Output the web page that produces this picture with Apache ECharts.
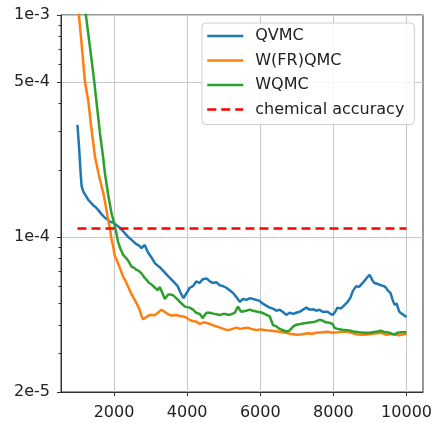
<!DOCTYPE html>
<html>
<head>
<meta charset="utf-8">
<script src="https://cdn.jsdelivr.net/npm/echarts@6/dist/echarts.min.js"></script>
<style>
html, body { margin: 0; background: #fff; }
#main { width: 436px; height: 423px; }
</style>
</head>
<body>
<div id="main"></div>
<script>
// series names as in the legend
var seriesNames = ['QVMC', 'W(FR)QMC', 'WQMC', 'chemical accuracy'];

// [iteration, error]
var qvmc = [
    [1000, 3.2e-4], [1040, 2.6e-4], [1090, 1.9e-4], [1115, 1.69e-4], [1160, 1.6e-4], [1210, 1.55e-4],
    [1295, 1.47e-4], [1360, 1.43e-4], [1430, 1.39e-4], [1500, 1.36e-4], [1570, 1.32e-4], [1650, 1.27e-4],
    [1750, 1.22e-4], [1820, 1.2e-4], [1890, 1.17e-4], [1980, 1.16e-4], [2070, 1.13e-4], [2160, 1.1e-4],
    [2250, 1.06e-4], [2360, 1.01e-4], [2480, 9.7e-5], [2600, 9.3e-5], [2700, 9.1e-5], [2750, 8.9e-5],
    [2840, 9.2e-5], [2930, 8.5e-5], [3020, 8.1e-5], [3120, 7.6e-5], [3250, 7.3e-5], [3390, 6.9e-5],
    [3500, 6.6e-5], [3620, 6.3e-5], [3740, 6.0e-5], [3820, 5.6e-5], [3900, 5.3e-5], [3990, 5.6e-5],
    [4070, 5.9e-5], [4160, 6.0e-5], [4250, 6.3e-5], [4340, 6.2e-5], [4430, 6.45e-5], [4530, 6.5e-5],
    [4620, 6.3e-5], [4700, 6.2e-5], [4800, 6.25e-5], [4890, 6.05e-5], [4980, 6.0e-5], [5070, 5.9e-5],
    [5160, 5.75e-5], [5250, 5.6e-5], [5350, 5.35e-5], [5440, 5.1e-5], [5530, 5.25e-5], [5620, 5.2e-5],
    [5720, 5.3e-5], [5800, 5.25e-5], [5890, 5.2e-5], [5980, 5.15e-5], [6070, 5.0e-5], [6160, 4.9e-5],
    [6260, 4.8e-5], [6350, 4.75e-5], [6440, 4.65e-5], [6530, 4.7e-5], [6610, 4.6e-5], [6710, 4.45e-5],
    [6800, 4.55e-5], [6900, 4.5e-5], [6980, 4.55e-5], [7080, 4.6e-5], [7170, 4.7e-5], [7260, 4.8e-5],
    [7350, 4.7e-5], [7440, 4.72e-5], [7530, 4.65e-5], [7620, 4.7e-5], [7700, 4.6e-5], [7840, 4.6e-5],
    [7920, 4.5e-5], [7980, 4.45e-5], [8050, 4.6e-5], [8110, 4.8e-5], [8200, 4.75e-5], [8260, 4.85e-5],
    [8390, 5.1e-5], [8460, 5.3e-5], [8530, 5.7e-5], [8620, 6.0e-5], [8700, 5.95e-5], [8800, 6.2e-5],
    [8900, 6.5e-5], [8990, 6.75e-5], [9060, 6.4e-5], [9120, 6.2e-5], [9200, 6.15e-5], [9300, 6.05e-5],
    [9380, 6.0e-5], [9440, 5.9e-5], [9500, 5.7e-5], [9560, 5.6e-5], [9620, 5.2e-5], [9670, 4.95e-5],
    [9730, 5.0e-5], [9800, 4.6e-5], [9850, 4.55e-5], [9920, 4.45e-5], [10000, 4.35e-5]
];

var wfrqmc = [
    [1000, 1.2e-3], [1040, 1.0e-3], [1120, 7.2e-4], [1205, 5.0e-4], [1295, 4.1e-4], [1390, 3.0e-4],
    [1480, 2.3e-4], [1570, 1.95e-4], [1660, 1.69e-4], [1705, 1.58e-4], [1750, 1.45e-4], [1800, 1.3e-4],
    [1850, 1.17e-4], [1890, 1.08e-4], [1940, 9.6e-5], [1980, 9.0e-5], [2020, 8.2e-5], [2070, 7.9e-5],
    [2110, 7.6e-5], [2180, 7.1e-5], [2250, 6.6e-5], [2300, 6.4e-5], [2400, 5.9e-5], [2480, 5.5e-5],
    [2570, 5.2e-5], [2620, 5.15e-5], [2700, 4.7e-5], [2750, 4.4e-5], [2800, 4.25e-5], [2880, 4.35e-5],
    [2980, 4.45e-5], [3030, 4.4e-5], [3120, 4.45e-5], [3200, 4.55e-5], [3300, 4.7e-5], [3350, 4.65e-5],
    [3460, 4.5e-5], [3570, 4.42e-5], [3700, 4.45e-5], [3800, 4.4e-5], [3900, 4.38e-5], [4000, 4.3e-5],
    [4100, 4.2e-5], [4250, 4.15e-5], [4350, 4.05e-5], [4440, 4.12e-5], [4530, 4.1e-5], [4620, 4.05e-5],
    [4700, 4.0e-5], [4800, 3.95e-5], [4900, 3.9e-5], [5000, 3.85e-5], [5100, 3.8e-5], [5200, 3.83e-5],
    [5350, 3.9e-5], [5450, 3.85e-5], [5550, 3.88e-5], [5650, 3.9e-5], [5750, 3.85e-5], [5890, 3.8e-5],
    [6000, 3.83e-5], [6170, 3.8e-5], [6300, 3.78e-5], [6420, 3.76e-5], [6530, 3.74e-5], [6620, 3.72e-5],
    [6710, 3.7e-5], [6850, 3.65e-5], [7000, 3.62e-5], [7150, 3.64e-5], [7300, 3.68e-5], [7420, 3.66e-5],
    [7530, 3.7e-5], [7700, 3.72e-5], [7840, 3.74e-5], [7980, 3.7e-5], [8120, 3.72e-5], [8250, 3.75e-5],
    [8390, 3.74e-5], [8500, 3.7e-5], [8620, 3.64e-5], [8760, 3.62e-5], [8900, 3.63e-5], [9050, 3.66e-5],
    [9200, 3.68e-5], [9300, 3.7e-5], [9440, 3.62e-5], [9560, 3.65e-5], [9700, 3.62e-5], [9800, 3.6e-5],
    [9900, 3.63e-5], [10000, 3.65e-5]
];

var wqmc = [
    [1000, 2.0e-3], [1120, 1.4e-3], [1230, 1.0e-3], [1350, 7.0e-4], [1460, 5.0e-4], [1540, 3.8e-4],
    [1615, 2.94e-4], [1700, 2.3e-4], [1750, 1.94e-4], [1840, 1.55e-4], [1930, 1.28e-4], [2000, 1.16e-4],
    [2060, 1.05e-4], [2110, 9.5e-5], [2180, 8.8e-5], [2250, 8.3e-5], [2340, 8.0e-5], [2410, 7.7e-5],
    [2480, 7.35e-5], [2550, 7.25e-5], [2620, 7.1e-5], [2690, 7.0e-5], [2750, 6.85e-5], [2820, 6.6e-5],
    [2890, 6.4e-5], [2960, 6.2e-5], [3030, 6.1e-5], [3120, 5.9e-5], [3200, 5.75e-5], [3250, 5.95e-5],
    [3320, 5.6e-5], [3390, 5.25e-5], [3440, 5.35e-5], [3480, 5.5e-5], [3550, 5.5e-5], [3620, 5.45e-5],
    [3700, 5.3e-5], [3750, 5.2e-5], [3850, 5.0e-5], [3940, 4.85e-5], [4070, 4.8e-5], [4160, 4.7e-5],
    [4250, 4.55e-5], [4340, 4.5e-5], [4430, 4.3e-5], [4480, 4.45e-5], [4530, 4.55e-5], [4620, 4.55e-5],
    [4750, 4.5e-5], [4890, 4.45e-5], [5000, 4.5e-5], [5160, 4.45e-5], [5300, 4.55e-5], [5390, 4.85e-5],
    [5440, 4.7e-5], [5480, 4.6e-5], [5620, 4.65e-5], [5710, 4.7e-5], [5800, 4.65e-5], [5930, 4.6e-5],
    [6060, 4.55e-5], [6170, 4.45e-5], [6260, 4.38e-5], [6350, 4.0e-5], [6440, 3.95e-5], [6530, 3.85e-5],
    [6620, 3.8e-5], [6710, 3.75e-5], [6800, 3.78e-5], [6900, 3.95e-5], [6990, 4.02e-5], [7100, 4.05e-5],
    [7200, 4.08e-5], [7300, 4.1e-5], [7400, 4.12e-5], [7500, 4.15e-5], [7620, 4.23e-5], [7700, 4.2e-5],
    [7790, 4.12e-5], [7900, 4.1e-5], [7980, 4.05e-5], [8030, 3.89e-5], [8110, 3.85e-5], [8250, 3.82e-5],
    [8390, 3.8e-5], [8550, 3.75e-5], [8700, 3.72e-5], [8850, 3.7e-5], [9000, 3.7e-5], [9080, 3.72e-5],
    [9200, 3.75e-5], [9300, 3.78e-5], [9400, 3.72e-5], [9480, 3.72e-5], [9600, 3.66e-5], [9670, 3.64e-5],
    [9760, 3.7e-5], [9850, 3.72e-5], [10000, 3.72e-5]
];

var chemAccuracy = [[1000, 1.09e-4], [10000, 1.09e-4]];

// axis ticks
var xTicks = [2000, 4000, 6000, 8000, 10000];
var yTickValues = [2e-5, 1e-4, 5e-4, 1e-3];
var yTickLabels = ['2e-5', '1e-4', '5e-4', '1e-3'];
var yMinorValues = [3e-5, 4e-5, 5e-5, 6e-5, 7e-5, 8e-5, 9e-5, 2e-4, 3e-4, 4e-4, 6e-4, 7e-4, 8e-4, 9e-4];

var colors = ['#1f77b4', '#ff7f0e', '#2ca02c', '#ff0000'];
var fontFamily = 'DejaVu Sans';

// y axis is drawn in log10 space
function toLog(arr) {
    return arr.map(function (p) { return [p[0], Math.log10(p[1])]; });
}
var yLogTicks = yTickValues.map(Math.log10);
var yLogMinor = yMinorValues.map(Math.log10);
var yMin = Math.log10(2e-5),
    yMax = Math.log10(1e-3);

var myChart = echarts.init(document.getElementById('main'));

var lineSeries = [qvmc, wfrqmc, wqmc, chemAccuracy].map(function (d, i) {
    return {
        name: seriesNames[i],
        type: 'line',
        data: toLog(d),
        symbol: 'none',
        showSymbol: false,
        clip: true,
        xAxisIndex: 0,
        yAxisIndex: 0,
        lineStyle: {
            color: colors[i],
            width: 2.5,
            type: i === 3 ? [9, 5] : 'solid'
        },
        itemStyle: { color: colors[i] }
    };
});

var option = {
    animation: false,
    backgroundColor: '#fff',
    grid: {
        left: 61,
        right: 13,
        top: 15,
        bottom: 31,
        outerBoundsMode: 'none',
        show: true,
        borderColor: '#333',
        borderWidth: 1
    },
    legend: {
        orient: 'vertical',
        left: 202,
        top: 23,
        padding: [5, 10, 7, 4],
        itemWidth: 36,
        itemHeight: 14,
        itemGap: 8.5,
        backgroundColor: 'rgba(255,255,255,0.85)',
        borderColor: '#d0d0d0',
        borderWidth: 1,
        borderRadius: 4,
        // hide the circle that line series put in their legend icon
        itemStyle: { opacity: 0, borderWidth: 0 },
        lineStyle: { width: 2.5 },
        textStyle: {
            fontFamily: fontFamily,
            fontSize: 16,
            color: '#222',
            padding: [0, 0, 0, 7]
        },
        data: seriesNames
    },
    xAxis: {
        type: 'value',
        min: 550,
        max: 10450,
        axisLine: { show: true, lineStyle: { color: '#333', width: 1 } },
        axisTick: { show: true, length: 4, customValues: xTicks, lineStyle: { color: '#333' } },
        axisLabel: {
            customValues: xTicks,
            margin: 13,
            fontFamily: fontFamily,
            fontSize: 16,
            color: '#222',
            formatter: function (v) { return String(v); }
        },
        splitLine: { show: true, lineStyle: { color: '#c8c8c8', width: 1 } }
    },
    yAxis: [{
        type: 'value',
        min: yMin,
        max: yMax,
        axisLine: { show: true, lineStyle: { color: '#333', width: 1 } },
        axisTick: { show: true, length: 4, customValues: yLogTicks, lineStyle: { color: '#333' } },
        axisLabel: {
            customValues: yLogTicks,
            margin: 11,
            fontFamily: fontFamily,
            fontSize: 16,
            color: '#222',
            formatter: function (v) {
                for (var i = 0; i < yLogTicks.length; i++) {
                    if (Math.abs(yLogTicks[i] - v) < 1e-6) return yTickLabels[i];
                }
                return '';
            }
        },
        splitLine: { show: true, lineStyle: { color: '#c8c8c8', width: 1 } }
    }, {
        // minor log ticks only
        type: 'value',
        position: 'left',
        min: yMin,
        max: yMax,
        axisLine: { show: false },
        axisTick: { show: true, length: 2.5, customValues: yLogMinor, lineStyle: { color: '#333' } },
        axisLabel: { show: false },
        splitLine: { show: false }
    }],
    series: lineSeries
};

myChart.setOption(option);
</script>
</body>
</html>
